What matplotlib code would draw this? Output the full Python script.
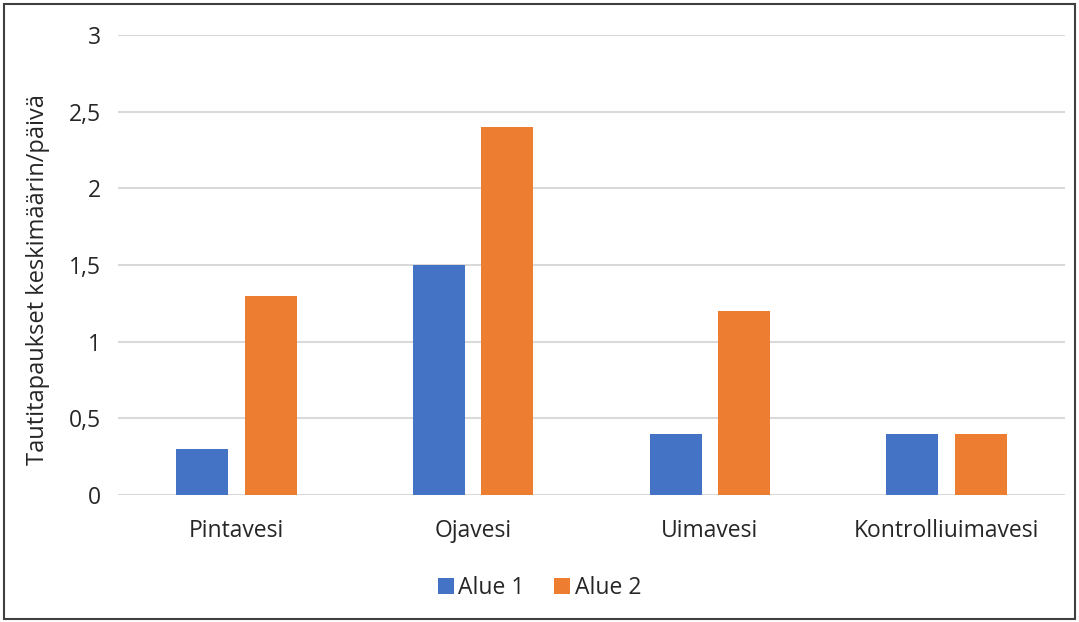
import numpy as np
import matplotlib.pyplot as plt
from matplotlib.ticker import FuncFormatter

# data
categories = ["Pintavesi", "Ojavesi", "Uimavesi", "Kontrolliuimavesi"]
alue1 = [0.3, 1.5, 0.4, 0.4]
alue2 = [1.3, 2.4, 1.2, 0.4]
series_names = ["Alue 1", "Alue 2"]
ylabel = "Tautitapaukset keskimäärin/päivä"

plt.rcParams['font.family'] = ['Open Sans', 'DejaVu Sans']

fig = plt.figure(figsize=(10.79, 6.22), dpi=100)
ax = fig.add_axes([118/1079, 1 - 495/622, (1065-118)/1079, (495-35)/622])

x = np.arange(len(categories))
width = 0.22
ax.bar(x - 0.145, alue1, width, color="#4472C4", label=series_names[0], zorder=3)
ax.bar(x + 0.145, alue2, width, color="#ED7D31", label=series_names[1], zorder=3)

ax.set_xlim(-0.5, len(categories) - 0.5)
ax.set_ylim(0, 3)
ax.set_yticks(np.arange(0, 3.01, 0.5))
ax.yaxis.set_major_formatter(FuncFormatter(lambda v, p: f"{v:g}".replace(".", ",")))
ax.set_xticks(x)
ax.set_xticklabels(categories)
ax.tick_params(axis="both", length=0, labelsize=16.5, colors="#262626")
ax.tick_params(axis="x", pad=17)
ax.tick_params(axis="y", pad=12)

ax.yaxis.grid(True, color="#D9D9D9", linewidth=1.5, zorder=0)
for s in ax.spines.values():
    s.set_visible(False)

fig.text(38/1079, 1 - 280/622, ylabel, rotation=90, ha="center", va="center",
         fontsize=17, color="#262626")

ax.legend(loc="center", bbox_to_anchor=(0.5, 1 - 588/622), bbox_transform=fig.transFigure,
          ncol=2, frameon=False, fontsize=16.5, handlelength=0.7, handleheight=0.7,
          handletextpad=0.2, columnspacing=1.3, labelcolor="#262626")

# outer border
fig.patches.append(plt.Rectangle((4/1079, 3/622), 1 - 8/1079, 1 - 7/622, transform=fig.transFigure,
                                 fill=False, edgecolor="#404040", linewidth=1.5))

fig.savefig("out.png", dpi=100)
